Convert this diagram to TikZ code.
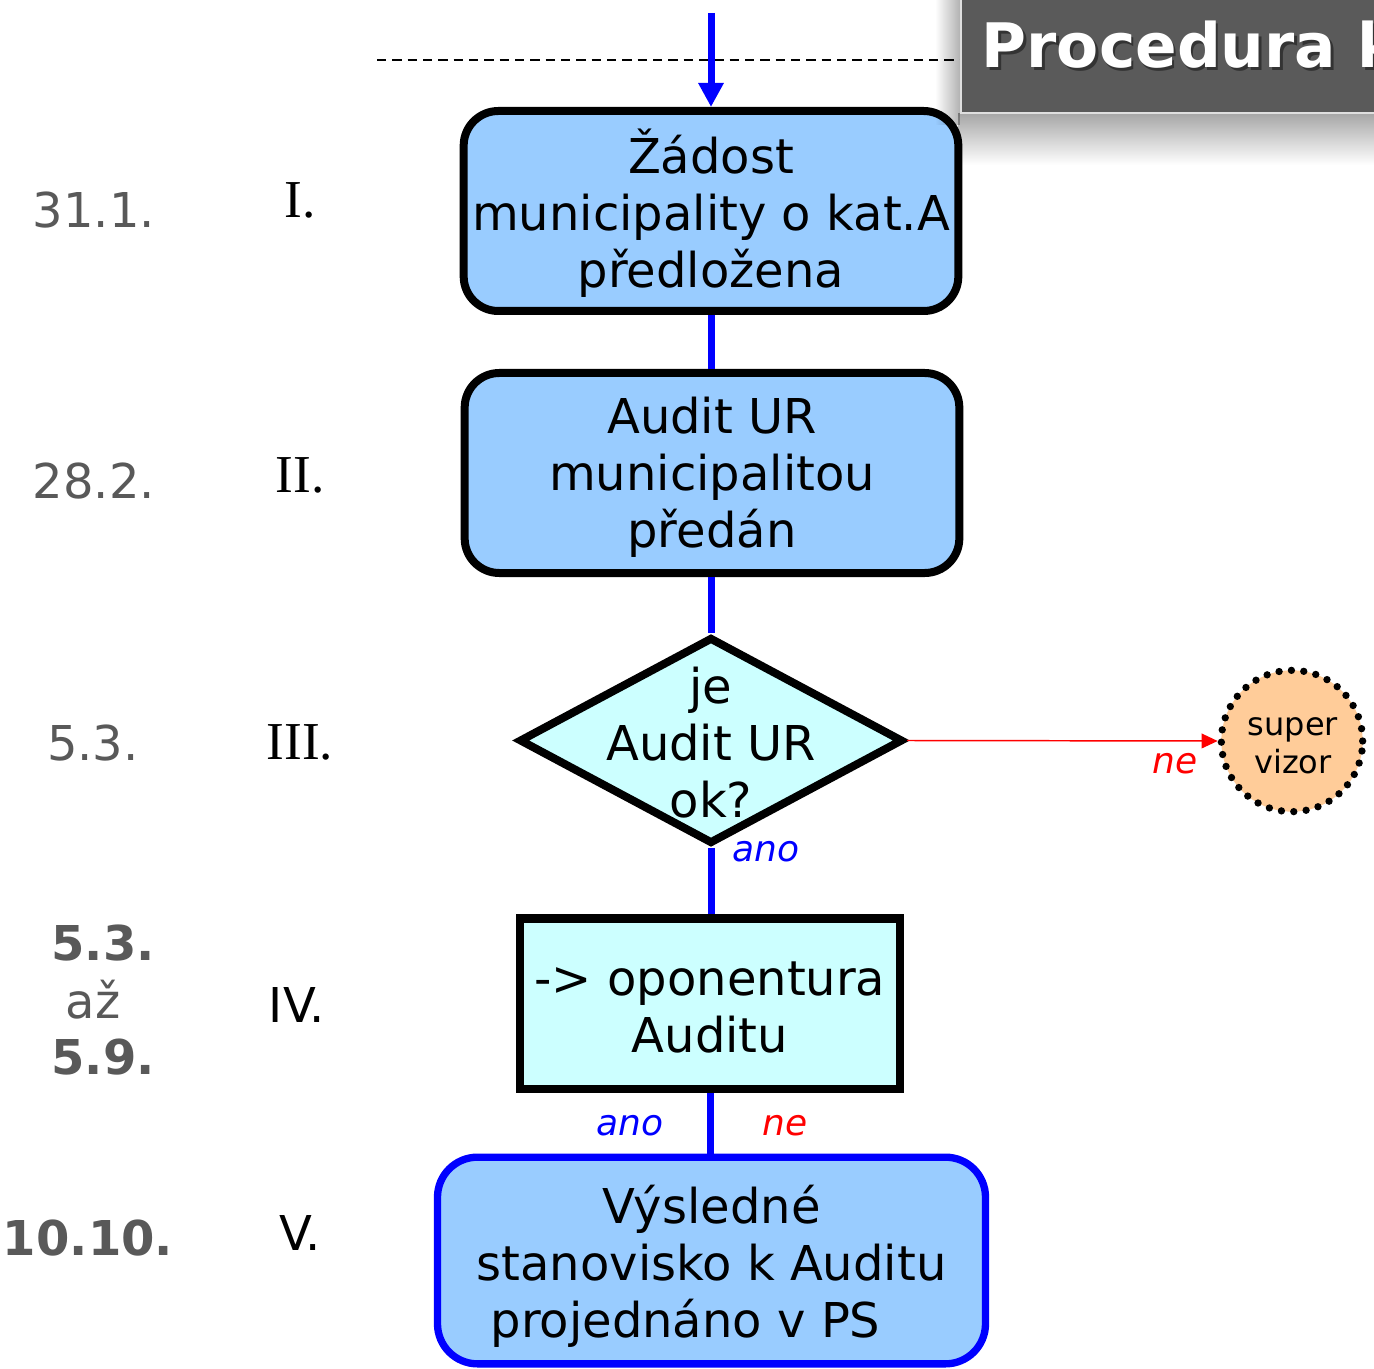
\documentclass[tikz,border=0pt]{standalone}
\usepackage{fontspec}
\setmainfont{DejaVu Sans}
\newfontfamily\romanfont{Liberation Serif}
\usetikzlibrary{arrows.meta,shapes.geometric,fadings}
\definecolor{boxblue}{HTML}{99CCFF}
\definecolor{cyanfill}{HTML}{CCFFFF}
\definecolor{peach}{HTML}{FFCC99}
\definecolor{dategray}{HTML}{595959}
\definecolor{titlegray}{HTML}{5A5A5A}
\definecolor{flowblue}{HTML}{0000FF}
\definecolor{nored}{HTML}{FF0000}
\begin{document}
\begin{tikzpicture}[x=0.75pt,y=-0.75pt,
  bigtext/.style={font=\fontsize{36}{42.75}\selectfont, align=center, text=black, inner sep=0pt},
  roundbox/.style={draw=black, line width=6pt, fill=boxblue, rounded corners=26pt,
    minimum width=371pt, minimum height=150pt, inner sep=0pt},
  finalbox/.style={draw=flowblue, line width=5.5pt, fill=boxblue, rounded corners=30pt,
    minimum width=411pt, minimum height=155pt, inner sep=0pt},
  decision/.style={diamond, draw=black, line width=6pt, fill=cyanfill,
    minimum width=288pt, minimum height=155pt, inner sep=0pt},
  plainbox/.style={rectangle, draw=black, line width=6.5pt, fill=cyanfill,
    minimum width=285pt, minimum height=128pt, inner sep=0pt},
  supervisor/.style={circle, fill=peach, draw=black, line width=5.5pt, dash pattern=on 0pt off 9.3pt,
    line cap=round, minimum size=106pt, inner sep=0pt},
  smalltext/.style={align=center, text=black, inner sep=0pt, font=\fontsize{24}{28.5}\selectfont},
  flow/.style={draw=flowblue, line width=5.25pt},
  datelabel/.style={text=dategray, font=\fontsize{36}{43}\selectfont},
  datebold/.style={text=dategray, font=\bfseries\fontsize{36}{43}\selectfont},
  romanlabel/.style={text=black, font=\romanfont\fontsize{40}{48}\selectfont},
  sanslabel/.style={text=black, font=\fontsize{36}{43}\selectfont},
  yeslabel/.style={text=flowblue, font=\itshape\fontsize{27}{32}\selectfont},
  nolabel/.style={text=nored, font=\itshape\fontsize{27}{32}\selectfont}
]
\clip (0,0) rectangle (1374,1369);
\fill[white] (0,0) rectangle (1374,1369);

% dashed guide line
\coordinate (dashL) at (377,60);
\coordinate (dashR) at (962,60);
\draw[black, line width=1.3pt, dash pattern=on 7pt off 4.5pt] (dashL) -- (dashR);

% main shapes
\node[roundbox] (b1) at (711,211) {};
\node[roundbox] (b2) at (712,473) {};
\node[decision] (dia) at (711,740.5) {};
\node[plainbox] (b4) at (710,1003.5) {};
\node[finalbox] (b5) at (711.5,1260.5) {};
\node[supervisor] (sv) at (1292,741) {};

% texts of the shapes
\node[bigtext] (b1text) at (711,213) {Žádost\\municipality o kat.A\\předložena};
\node[bigtext] (b2text) at (712,477) {Audit UR\\municipalitou\\předán};
\node[bigtext] (diatext) at (711,743) {je\\Audit UR\\ok?};
\node[bigtext] (b4text) at (710,1007) {-> oponentura\\Auditu};
\node[bigtext] (b5text) at (711.5,1266) {Výsledné\\stanovisko k Auditu\\projednáno v PS\hspace*{39pt}};
\node[smalltext] (svtext) at (1293,746) {super\\vizor};

% connectors
\coordinate (start) at (711,13);
\draw[flow, -{Triangle[width=18pt,length=18pt]}] (start) -- (b1.north);
\draw[flow] (b1.south) -- (b1.south |- b2.north);
\draw[flow] (b2.south -| dia.north) -- (dia.north);
\draw[flow] (dia.south) -- (b4.north -| dia.south);
\draw[flow] (b4.south) -- (b4.south |- b5.north);
\draw[nored, line width=1.1pt, -{Triangle[width=11pt,length=12pt]}] (dia.east) -- (sv.west);

% branch labels
\node[yeslabel] (ano1) at (766,852) {ano};
\node[nolabel] (ne1) at (1175,764) {ne};
\node[yeslabel] (ano2) at (630,1126) {ano};
\node[nolabel] (ne2) at (785,1126) {ne};

% left column: dates and stage numbers
\node[datelabel] (d1) at (94,210) {31.1.};
\node[romanlabel] (r1) at (300,200) {I.};
\node[datelabel] (d2) at (94,481) {28.2.};
\node[romanlabel] (r2) at (300,475) {II.};
\node[datelabel] (d3) at (93,743) {5.3.};
\node[romanlabel] (r3) at (300,742) {III.};
\node[datebold] (d4a) at (103,943) {5.3.};
\node[datelabel] (d4b) at (93,1000) {až};
\node[datebold] (d4c) at (103,1057) {5.9.};
\node[sanslabel] (r4) at (297,1005) {IV.};
\node[datebold] (d5) at (88,1238) {10.10.};
\node[sanslabel] (r5) at (300,1233) {V.};

% title bar with shadow
\fill[black, opacity=0.35, path fading=south] (958,113) rectangle (1374,165);
\fill[black, opacity=0.30, path fading=west] (935,0) rectangle (960,125);
\filldraw[fill=titlegray, draw=gray!25, line width=1pt] (961,-5) rectangle (1380,113);
\node[anchor=base west, text=black!80, font=\bfseries\fontsize{46}{50}\selectfont] (titleshadow) at (979.5,70.5) {Procedura k};
\node[anchor=base west, text=white, font=\bfseries\fontsize{46}{50}\selectfont] (title) at (977,68) {Procedura k};
\end{tikzpicture}
\end{document}
